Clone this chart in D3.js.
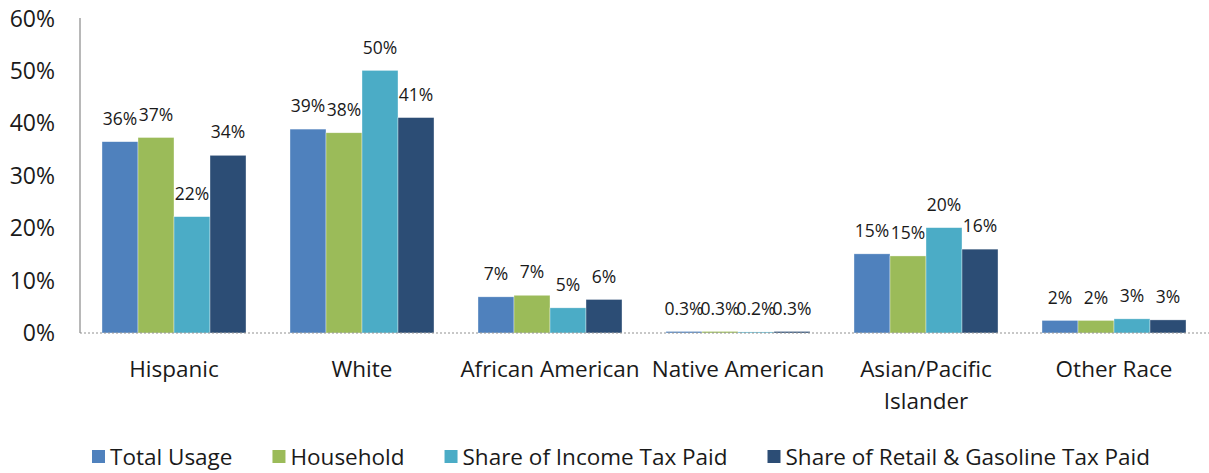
<!DOCTYPE html>
<html>
<head>
<meta charset="utf-8">
<script src="https://cdn.jsdelivr.net/npm/d3@7"></script>
<style>
  body { margin: 0; background: #fff; }
  text { font-family: "Open Sans", "Noto Sans", sans-serif; fill: #1a1a1a; }
</style>
</head>
<body>
<script>
(function(){

//chart data
var categories = ["Hispanic", "White", "African American", "Native American", "Asian/Pacific Islander", "Other Race"];
var seriesNames = ["Total Usage", "Household", "Share of Income Tax Paid", "Share of Retail & Gasoline Tax Paid"];
var totalUsage = [36.5, 38.9, 6.9, 0.3, 15.1, 2.4];
var household = [37.3, 38.2, 7.2, 0.3, 14.7, 2.4];
var incomeTax = [22.2, 50.1, 4.8, 0.2, 20.1, 2.7];
var retailTax = [33.9, 41.1, 6.4, 0.3, 16.0, 2.5];
var valueLabels = [
  ["36%", "39%", "7%", "0.3%", "15%", "2%"],
  ["37%", "38%", "7%", "0.3%", "15%", "2%"],
  ["22%", "50%", "5%", "0.2%", "20%", "3%"],
  ["34%", "41%", "6%", "0.3%", "16%", "3%"]
];
var yTicks = [0, 10, 20, 30, 40, 50, 60];
var colors = ["#4F81BD", "#9BBB59", "#4BACC6", "#2C4D75"];

var allSeries = [totalUsage, household, incomeTax, retailTax];

var width = 1209, height = 473;

var svg = d3.select("body").append("svg")
  .attr("width", width)
  .attr("height", height);

//scales
var x0 = d3.scaleBand()
  .domain(categories)
  .range([80, 1208])
  .paddingInner(0.234)
  .paddingOuter(0.117);

var x1 = d3.scaleBand()
  .domain(d3.range(seriesNames.length))
  .range([0, x0.bandwidth()]);

var y = d3.scaleLinear()
  .domain([0, 60])
  .range([333, 18.5]);

//y tick labels
svg.selectAll(".ytick")
  .data(yTicks)
  .enter()
  .append("text")
  .attr("class", "ytick")
  .attr("x", 55)
  .attr("y", function(d){ return y(d); })
  .attr("dy", "0.35em")
  .attr("text-anchor", "end")
  .style("font-size", "23px")
  .text(function(d){ return d + "%"; });

//bars
var groups = svg.selectAll(".group")
  .data(categories)
  .enter()
  .append("g")
  .attr("class", "group")
  .attr("transform", function(d){ return "translate(" + x0(d) + ",0)"; });

groups.selectAll("rect")
  .data(function(d, i){
    return allSeries.map(function(s, j){ return {s: j, v: s[i], label: valueLabels[j][i]}; });
  })
  .enter()
  .append("rect")
  .attr("x", function(d){ return x1(d.s); })
  .attr("y", function(d){ return y(d.v); })
  .attr("width", x1.bandwidth())
  .attr("height", function(d){ return y(0) - y(d.v); })
  .style("fill", function(d){ return colors[d.s]; })
  .style("stroke", "rgba(255,255,255,0.6)")
  .style("stroke-width", 0.6);

groups.selectAll(".vlabel")
  .data(function(d, i){
    return allSeries.map(function(s, j){ return {s: j, v: s[i], label: valueLabels[j][i]}; });
  })
  .enter()
  .append("text")
  .attr("class", "vlabel")
  .attr("x", function(d){ return x1(d.s) + x1.bandwidth() / 2; })
  .attr("y", function(d){ return y(d.v) - 23; })
  .attr("dy", "0.35em")
  .attr("text-anchor", "middle")
  .style("font-size", "17.5px")
  .text(function(d){ return d.label; });

//axes lines
svg.append("line")
  .attr("x1", 80).attr("x2", 80)
  .attr("y1", 18).attr("y2", y(0))
  .style("stroke", "#a0a0a0")
  .style("stroke-width", 1.5);

svg.append("line")
  .attr("x1", 80).attr("x2", 1209)
  .attr("y1", y(0)).attr("y2", y(0))
  .style("stroke", "#909090")
  .style("stroke-width", 1)
  .style("stroke-dasharray", "2,2");

//category labels
var catLabels = svg.selectAll(".cat")
  .data(categories)
  .enter()
  .append("text")
  .attr("class", "cat")
  .attr("text-anchor", "middle")
  .style("font-size", "22.5px")
  .attr("transform", function(d){ return "translate(" + (x0(d) + x0.bandwidth() / 2) + ",377)"; });

catLabels.each(function(d){
  var t = d3.select(this);
  var parts = d === "Asian/Pacific Islander" ? ["Asian/Pacific", "Islander"] : [d];
  parts.forEach(function(p, k){
    t.append("tspan").attr("x", 0).attr("y", k * 32).text(p);
  });
});

//legend
var legend = svg.append("g").attr("class", "legend");
var lx = 92;
seriesNames.forEach(function(name, i){
  legend.append("rect")
    .attr("x", lx)
    .attr("y", 450)
    .attr("width", 13)
    .attr("height", 13)
    .style("fill", colors[i]);
  var t = legend.append("text")
    .attr("x", lx + 18)
    .attr("y", 457)
    .attr("dy", "0.35em")
    .style("font-size", "22.5px")
    .text(name);
  lx = lx + 18 + t.node().getComputedTextLength() + 40;
});

})();
</script>
</body>
</html>
